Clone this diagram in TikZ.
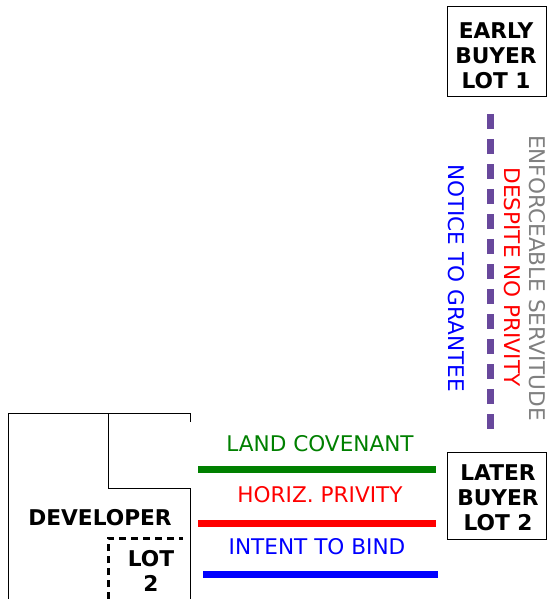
\documentclass[tikz,border=0pt]{standalone}
\usepackage{fontspec}
\setmainfont{DejaVu Sans}
\definecolor{dgreen}{RGB}{0,128,0}
\definecolor{lpurple}{RGB}{104,72,156}
\definecolor{lgray}{RGB}{128,128,128}
\begin{document}
\begin{tikzpicture}[x=1pt,y=-1pt,
  lbl/.style={font=\fontsize{21.6}{25}\selectfont, inner sep=0pt},
  boxtxt/.style={font=\bfseries\fontsize{21.7}{25}\selectfont, align=center, inner sep=0pt},
  lotbox/.style={draw, line width=1pt, inner sep=0pt},
  band/.style={line width=7pt},
  outline/.style={line width=1pt}]
\useasboundingbox (0,0) rectangle (547,599);
\fill[white] (0,0) rectangle (547,599);

% boxes
\node[lotbox, minimum width=99pt, minimum height=90pt] (early) at (496.5,52) {};
\node[boxtxt] (earlyt) at (496,56) {EARLY\\BUYER\\LOT 1};
\node[lotbox, minimum width=99pt, minimum height=87pt] (later) at (496.5,495.5) {};
\node[boxtxt] (latert) at (498,498) {LATER\\BUYER\\LOT 2};

% developer parcel
\coordinate (d1) at (190,422);
\coordinate (d2) at (190,413);
\coordinate (d3) at (8,413);
\coordinate (d4) at (8,599);
\coordinate (e1) at (108,413);
\coordinate (e2) at (108,488);
\coordinate (e3) at (190,488);
\coordinate (e4) at (190,599);
\draw[outline] (d1) -- (d2) -- (d3) -- (d4);
\draw[outline] (e1) -- (e2) -- (e3) -- (e4);
\node[boxtxt] (dev) at (100,518) {DEVELOPER};

\coordinate (l1) at (108,599);
\coordinate (l2) at (108,538);
\coordinate (l3) at (183,538);
\draw[line width=3pt, dash pattern=on 7pt off 5pt] (l1) -- (l2) -- (l3);
\node[boxtxt] (lot2) at (151,571) {LOT\\2};

% horizontal bands
\coordinate (g1) at (198,469); \coordinate (g2) at (436,469);
\coordinate (r1) at (198,523); \coordinate (r2) at (436,523);
\coordinate (b1) at (203,574); \coordinate (b2) at (438,574);
\draw[band, dgreen] (g1) -- (g2);
\draw[band, red] (r1) -- (r2);
\draw[band, blue] (b1) -- (b2);
\node[lbl, text=dgreen] (lc) at (320,444) {LAND COVENANT};
\node[lbl, text=red] (hp) at (320,495) {HORIZ. PRIVITY};
\node[lbl, text=blue] (ib) at (317,547) {INTENT TO BIND};

% vertical servitude
\coordinate (v1) at (490,114); \coordinate (v2) at (490,429);
\draw[lpurple, line width=7pt, dash pattern=on 15pt off 10pt] (v1) -- (v2);
\node[lbl, text=blue, rotate=-90] (ng) at (456,278) {NOTICE TO GRANTEE};
\node[lbl, text=red, rotate=-90] (dp) at (512,277) {DESPITE NO PRIVITY};
\node[lbl, text=lgray, rotate=-90] (es) at (537,278) {ENFORCEABLE SERVITUDE};
\end{tikzpicture}
\end{document}
